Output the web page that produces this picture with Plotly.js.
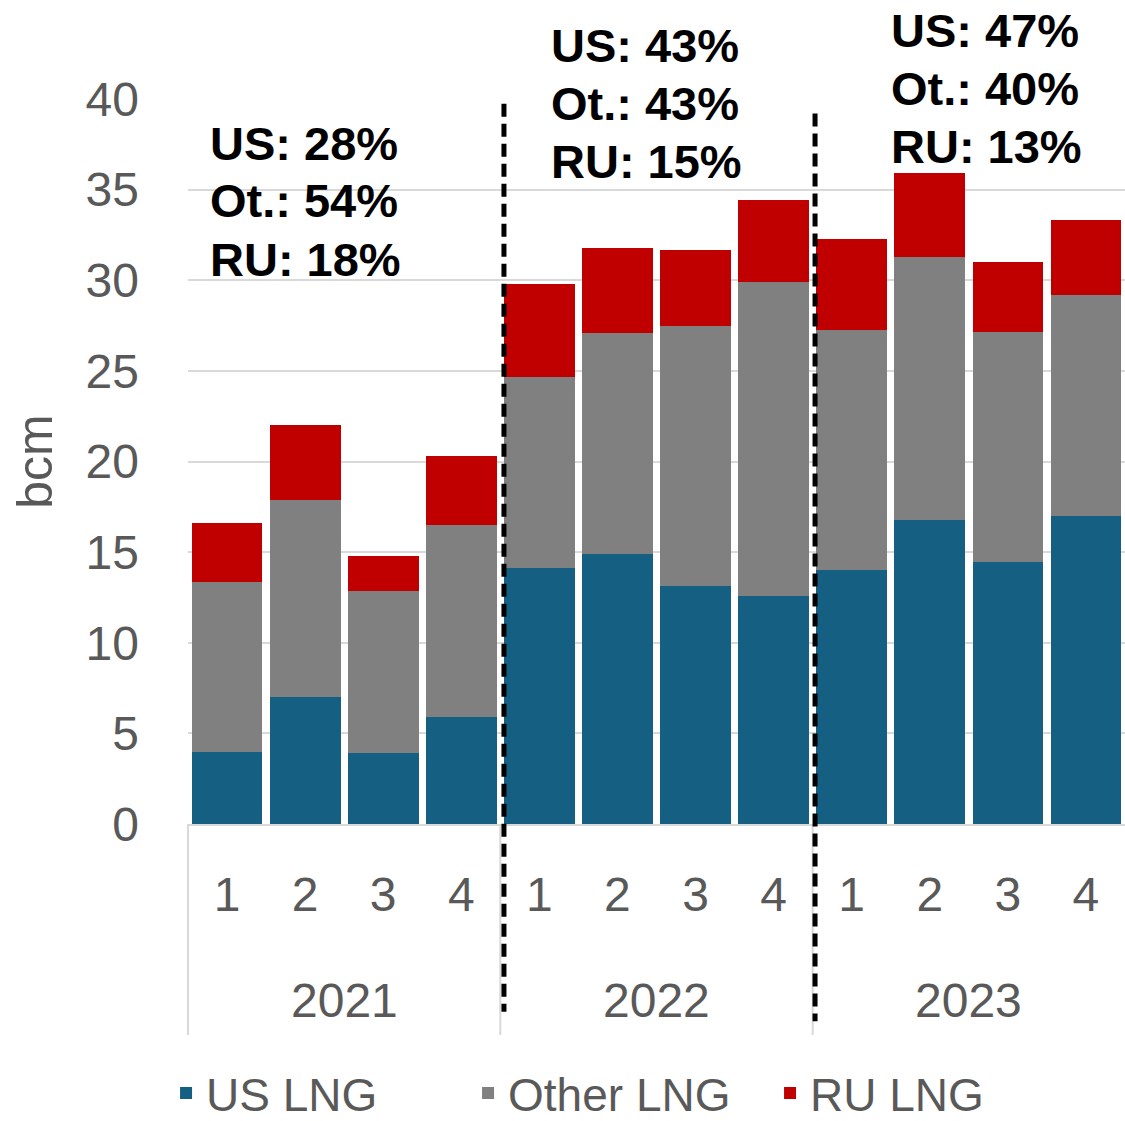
<!DOCTYPE html>
<html>
<head>
<meta charset="utf-8">
<script src="https://cdn.plot.ly/plotly-3.0.1.min.js"></script>
<style>html,body{margin:0;padding:0;background:#fff;}#chart{width:1125px;height:1121px;}</style>
</head>
<body>
<div id="chart"></div>
<script>
// ---- data ----
const years = ['2021', '2022', '2023'];
const quarters = ['1', '2', '3', '4'];
const seriesNames = ['US LNG', 'Other LNG', 'RU LNG'];
const usLNG    = [4.00, 6.98, 3.89, 5.93, 14.10, 14.87, 13.14, 12.59, 14.04, 16.77, 14.43, 17.00];
const otherLNG = [9.33, 10.89, 8.99, 10.54, 10.57, 12.23, 14.36, 17.32, 13.21, 14.54, 12.71, 12.18];
const ruLNG    = [3.30, 4.17, 1.92, 3.86, 5.11, 4.67, 4.19, 4.54, 5.02, 4.60, 3.84, 4.17];
const shareLines = [
  ['US: 28%', 'Ot.: 54%', 'RU: 18%'],
  ['US: 43%', 'Ot.: 43%', 'RU: 15%'],
  ['US: 47%', 'Ot.: 40%', 'RU: 13%']
];
const yTitle = 'bcm';

// ---- build categories ----
const cats = [];
const tickText = [];
years.forEach(y => quarters.forEach(q => { cats.push(y + '-' + q); tickText.push(q); }));

const colors = ['#156082', '#808080', '#C00000'];
const values = [usLNG, otherLNG, ruLNG];
const traces = values.map((v, i) => ({
  type: 'bar', name: seriesNames[i], x: cats, y: v,
  marker: {color: colors[i], line: {width: 0}},
  hoverinfo: 'x+y+name'
}));

const gray = '#595959';
const font = 'Liberation Sans, Arial, sans-serif';

// ---- layout helpers ----
const blockX = [0.0215, 0.3855, 0.7485];
const blockY = [[0.939, 0.8604, 0.779], [1.0735, 0.9935, 0.9135], [1.0942, 1.0142, 0.9342]];
const annotations = [];
shareLines.forEach((lines, b) => lines.forEach((t, i) => annotations.push({
  text: '<b>' + t + '</b>', xref: 'paper', yref: 'paper', x: blockX[b], y: blockY[b][i],
  xanchor: 'left', yanchor: 'middle', showarrow: false,
  font: {family: font, size: 47, color: '#000000'}
})));
const yearX = [0.1665, 0.5, 0.8335];
years.forEach((y, i) => annotations.push({
  text: y, xref: 'paper', yref: 'paper', x: yearX[i], y: -0.2437,
  xanchor: 'center', yanchor: 'middle', showarrow: false,
  font: {family: font, size: 48, color: gray}
}));

const shapes = [];
[0, 0.3333, 0.6667].forEach(px => shapes.push({
  type: 'line', xref: 'paper', yref: 'paper', x0: px, x1: px, y0: 0, y1: -0.291,
  line: {color: '#d9d9d9', width: 2}
}));
[[0.3372, 0.9935, -0.259], [0.6692, 0.980, -0.272]].forEach(d => shapes.push({
  type: 'line', xref: 'paper', yref: 'paper', x0: d[0], x1: d[0], y0: d[1], y1: d[2],
  line: {color: '#000000', width: 5, dash: '13px,7px'}
}));

const layout = {
  width: 1125, height: 1121,
  margin: {l: 188, r: 0, t: 99, b: 297, pad: 0},
  paper_bgcolor: '#ffffff', plot_bgcolor: '#ffffff',
  barmode: 'stack', bargap: 0.094,
  font: {family: font, color: gray},
  xaxis: {
    type: 'category', tickvals: cats, ticktext: tickText,
    showgrid: false, zeroline: false, showline: true, linecolor: '#d9d9d9', linewidth: 2,
    ticks: '', ticklabelstandoff: 27, automargin: false,
    tickfont: {family: font, size: 48, color: gray}, fixedrange: true
  },
  yaxis: {
    range: [0, 40], dtick: 5, tick0: 0,
    showgrid: true, gridcolor: '#d9d9d9', gridwidth: 2, zeroline: false, showline: false,
    ticks: '', ticklabelstandoff: 48, automargin: false,
    tickfont: {family: font, size: 48, color: gray},
    title: {text: yTitle, font: {family: font, size: 50, color: gray}, standoff: 17},
    fixedrange: true
  },
  showlegend: true,
  legend: {
    orientation: 'h', xref: 'container', yref: 'container',
    x: 0.1476, xanchor: 'left', y: 0.025, yanchor: 'middle',
    font: {family: font, size: 46, color: gray}, traceorder: 'normal',
    entrywidth: 257, entrywidthmode: 'pixels', itemclick: false, itemdoubleclick: false
  },
  annotations: annotations,
  shapes: shapes
};

Plotly.newPlot('chart', traces, layout, {displayModeBar: false});
</script>
</body>
</html>
